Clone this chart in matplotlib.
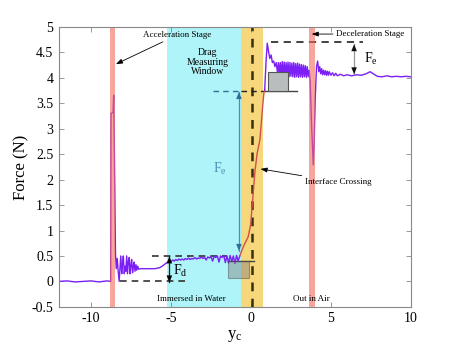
import matplotlib
matplotlib.use("Agg")
import matplotlib.pyplot as plt
from matplotlib.patches import Rectangle
from matplotlib.ticker import FuncFormatter

plt.rcParams['font.family'] = ['Liberation Serif', 'DejaVu Serif']
plt.rcParams['axes.unicode_minus'] = False
plt.rcParams['mathtext.fontset'] = 'custom'
plt.rcParams['mathtext.rm'] = 'Liberation Serif'
plt.rcParams['mathtext.it'] = 'Liberation Serif'

# ---- data ----
water_x = [-12.0, -11.5, -11.0, -10.5, -10.0, -9.5, -9.0, -8.77,
           -8.75, -8.62, -8.58, -8.52, -8.47, -8.42, -8.36, -8.30, -8.24, -8.19,
           -8.14, -8.08, -8.03, -7.98, -7.92, -7.87, -7.82, -7.77, -7.72, -7.66,
           -7.61, -7.56, -7.51, -7.46, -7.40, -7.35, -7.31, -7.25, -7.19, -7.14,
           -7.08, -7.02, -6.9, -6.5, -6.0, -5.7, -5.5, -5.3,
           -5.2, -5.1, -5.0, -4.9, -4.8, -4.7, -4.6, -4.5, -4.4, -4.3, -4.2, -4.1,
           -4.0, -3.9, -3.8, -3.7, -3.6, -3.5, -3.4, -3.3, -3.2, -3.1, -3.0, -2.9,
           -2.8, -2.7, -2.6, -2.5, -2.4, -2.3, -2.2, -2.1, -2.0, -1.9, -1.8, -1.7,
           -1.6, -1.5, -1.4, -1.3, -1.2, -1.1, -1.0, -0.9, -0.8, -0.7]
water_f = [0.0, 0.01, -0.01, 0.0, 0.01, -0.01, 0.01, 0.0,
           3.30, 3.32, 3.66, 2.0, 0.55, 0.25, 0.45, 0.20, 0.0, 0.25,
           0.50, 0.15, 0.35, 0.50, 0.15, 0.30, 0.20, 0.50, 0.15, 0.40,
           0.47, 0.15, 0.30, 0.43, 0.17, 0.30, 0.38, 0.20, 0.33, 0.22,
           0.30, 0.24, 0.25, 0.25, 0.25, 0.27, 0.31, 0.36,
           0.38, 0.41, 0.39, 0.42, 0.40, 0.43, 0.41, 0.44, 0.42, 0.44, 0.42, 0.45,
           0.43, 0.46, 0.43, 0.45, 0.44, 0.47, 0.44, 0.46, 0.45, 0.48, 0.45, 0.47,
           0.42, 0.48, 0.46, 0.49, 0.40, 0.49, 0.47, 0.50, 0.38, 0.50, 0.47, 0.51,
           0.37, 0.50, 0.36, 0.51, 0.39, 0.50, 0.35, 0.51, 0.40, 0.50]

cross_x = [-0.7, -0.48, -0.17, -0.02, 0.04, 0.25, 0.39, 0.56, 0.73, 0.81, 0.86]
cross_f = [0.50, 0.68, 0.88, 1.11, 1.34, 2.16, 2.52, 2.78, 3.43, 3.70, 3.76]

air_x = [0.86, 0.95, 1.02, 1.10, 1.18, 1.26, 1.34, 1.42, 1.50, 1.58, 1.66, 1.72,
         1.78, 1.84, 1.90, 1.96, 2.02, 2.08, 2.14, 2.20, 2.26, 2.32, 2.38, 2.44,
         2.50, 2.56, 2.62, 2.68, 2.74, 2.80, 2.86, 2.92, 2.98, 3.04, 3.10, 3.16,
         3.22, 3.28, 3.34, 3.40, 3.46, 3.52, 3.58, 3.64, 3.70, 3.80, 3.90, 3.96,
         4.02, 4.10, 4.17, 4.24, 4.30, 4.36, 4.42, 4.48, 4.54, 4.60, 4.66, 4.72,
         4.78, 4.84, 4.90, 5.0, 5.1, 5.2, 5.3, 5.4, 5.6, 5.8, 6.0, 6.3, 6.6,
         6.9, 7.2, 7.45, 7.7, 7.9, 8.2, 8.5, 8.8, 9.1, 9.4, 9.7, 10.0]
air_f = [3.76, 4.35, 4.68, 4.52, 4.38, 4.45, 4.30, 4.33, 4.22, 4.30, 4.10, 4.30,
         4.05, 4.30, 4.04, 4.32, 4.05, 4.31, 4.03, 4.30, 4.04, 4.31, 4.02, 4.30,
         4.03, 4.29, 4.02, 4.30, 4.01, 4.28, 4.02, 4.29, 4.01, 4.27, 4.02, 4.26,
         4.01, 4.25, 4.02, 4.24, 4.01, 4.22, 4.02, 4.15, 3.95, 3.00, 2.29, 2.80,
         3.60, 4.22, 4.33, 4.12, 4.22, 4.08, 4.18, 4.06, 4.15, 4.06, 4.14, 4.05,
         4.13, 4.05, 4.12, 4.05, 4.10, 4.04, 4.09, 4.04, 4.07, 4.04, 4.06, 4.04,
         4.06, 4.05, 4.08, 4.12, 4.07, 4.03, 4.02, 4.04, 4.02, 4.03, 4.02, 4.03, 4.02]

accel_band = (-8.81, -8.50)
decel_band = (3.60, 4.00)
window_band = (-5.25, -0.63)
cross_band = (-0.63, 0.75)

x_ticks = [-10, -5, 0, 5, 10]
y_ticks = [-0.5, 0, 0.5, 1, 1.5, 2, 2.5, 3, 3.5, 4, 4.5, 5]

# ---- figure ----
fig = plt.figure(figsize=(4.54, 3.64), dpi=100)
ax = fig.add_axes([0.130, 0.157, 0.775, 0.769])
ax.set_xlim(-12, 10)
ax.set_ylim(-0.5, 5)

ax.axvspan(*window_band, color='#aef4f8', lw=0, zorder=0)
ax.axvspan(*cross_band, color='#f6d77c', lw=0, zorder=0)

purple = '#7b1ff5'
ax.plot(water_x, water_f, color=purple, lw=1.0, zorder=3)
ax.plot(cross_x, cross_f, color='#d0504a', lw=1.0, zorder=3)
ax.plot(air_x, air_f, color=purple, lw=1.0, zorder=3)

ax.axvspan(*accel_band, color='#f46a5e', alpha=0.6, lw=0, zorder=4)
ax.axvspan(*decel_band, color='#f46a5e', alpha=0.6, lw=0, zorder=4)

# vertical dashed interface line
ax.axvline(0.05, color='#3a2f10', lw=1.8, dashes=(3.5, 3), zorder=2)

# horizontal reference dashed lines
ax.plot([1.25, 7.0], [4.7, 4.7], color='#333333', lw=1.3, dashes=(4, 3), zorder=2)
ax.plot([-6.2, -1.5], [0.5, 0.5], color='#333333', lw=1.2, dashes=(4, 3), zorder=2)
ax.plot([-8.2, -3.9], [0.0, 0.0], color='#333333', lw=1.2, dashes=(4, 3), zorder=2)
ax.plot([-2.4, -0.63], [3.74, 3.74], color='#2f6f9a', lw=1.0, dashes=(4, 3), zorder=2)
ax.plot([-0.63, 0.9], [3.74, 3.74], color='#222222', lw=1.0, dashes=(4, 3), zorder=2)
ax.plot([0.9, 2.9], [3.74, 3.74], color='#444444', lw=1.0, zorder=2)
ax.plot([-1.44, 0.2], [0.40, 0.40], color='#444444', lw=1.0, zorder=2)

# boxes
ax.add_patch(Rectangle((1.06, 3.74), 1.24, 0.38, facecolor='#b9bdbd',
                       edgecolor='#555555', lw=0.8, zorder=5))
ax.add_patch(Rectangle((-1.44, 0.07), 1.32, 0.33, facecolor='#808080', alpha=0.45,
                       edgecolor='#444444', lw=0.8, zorder=5))

# double arrows
def dbl(x, y0, y1, line_color, head_color):
    ax.plot([x, x], [y0, y1], color=line_color, lw=0.9, zorder=6)
    ax.annotate('', xy=(x, y1), xytext=(x, (y0 + y1) / 2),
                arrowprops=dict(arrowstyle='-|>,head_length=0.5,head_width=0.2',
                                color=head_color, lw=0.01, shrinkA=0, shrinkB=0),
                zorder=6)
    ax.annotate('', xy=(x, y0), xytext=(x, (y0 + y1) / 2),
                arrowprops=dict(arrowstyle='-|>,head_length=0.5,head_width=0.2',
                                color=head_color, lw=0.01, shrinkA=0, shrinkB=0),
                zorder=6)

dbl(-5.1, -0.02, 0.49, '#222222', '#000000')
dbl(6.45, 4.07, 4.66, '#999999', '#111111')
dbl(-0.75, 0.60, 3.72, '#4a90b8', '#2e6f98')

ax.text(-4.85, 0.2, r'F$_\mathrm{d}$', fontsize=10, ha='left', va='center', zorder=7)
ax.text(7.05, 4.37, r'F$_\mathrm{e}$', fontsize=10, ha='left', va='center', zorder=7)
ax.text(-1.95, 2.2, r'F$_\mathrm{e}$', fontsize=10, ha='center', va='center',
        color='#4a90b8', zorder=7)

# annotated stage labels
arrow_kw = dict(arrowstyle='-|>,head_length=0.6,head_width=0.22', color='black',
                lw=0.6, shrinkA=0, shrinkB=0)
ax.annotate('Acceleration Stage', xy=(-8.44, 4.27), xytext=(-6.75, 4.84),
            fontsize=6.5, ha='left', va='center', arrowprops=arrow_kw, zorder=7)
ax.annotate('Deceleration Stage', xy=(3.8, 4.86), xytext=(5.3, 4.86),
            fontsize=6.5, ha='left', va='center', arrowprops=arrow_kw, zorder=7)
ax.annotate('Interface Crossing', xy=(0.6, 2.21), xytext=(3.35, 1.96),
            fontsize=6.5, ha='left', va='center', arrowprops=arrow_kw, zorder=7)
ax.text(-2.7, 4.31, 'Drag\nMeasuring\nWindow', fontsize=7, ha='center',
        va='center', linespacing=1.05, zorder=7)
ax.text(-3.7, -0.34, 'Immersed in Water', fontsize=6.5, ha='center', va='center', zorder=7)
ax.text(3.8, -0.34, 'Out in Air', fontsize=6.5, ha='center', va='center', zorder=7)

# axes styling
ax.set_xticks(x_ticks)
ax.set_yticks(y_ticks)
fmt = FuncFormatter(lambda v, p: ('%g' % v))
ax.xaxis.set_major_formatter(fmt)
ax.yaxis.set_major_formatter(fmt)
ax.tick_params(direction='in', top=True, right=True, length=3.5, width=0.6,
               color='#888888', labelsize=10, pad=4)
for s in ax.spines.values():
    s.set_color('#888888')
    s.set_linewidth(0.8)
    s.set_zorder(8)
ax.set_ylabel('Force (N)', fontsize=12, labelpad=2)
ax.set_xlabel(r'y$_\mathrm{c}$', fontsize=12, labelpad=2)

fig.savefig('out.png', dpi=100)
